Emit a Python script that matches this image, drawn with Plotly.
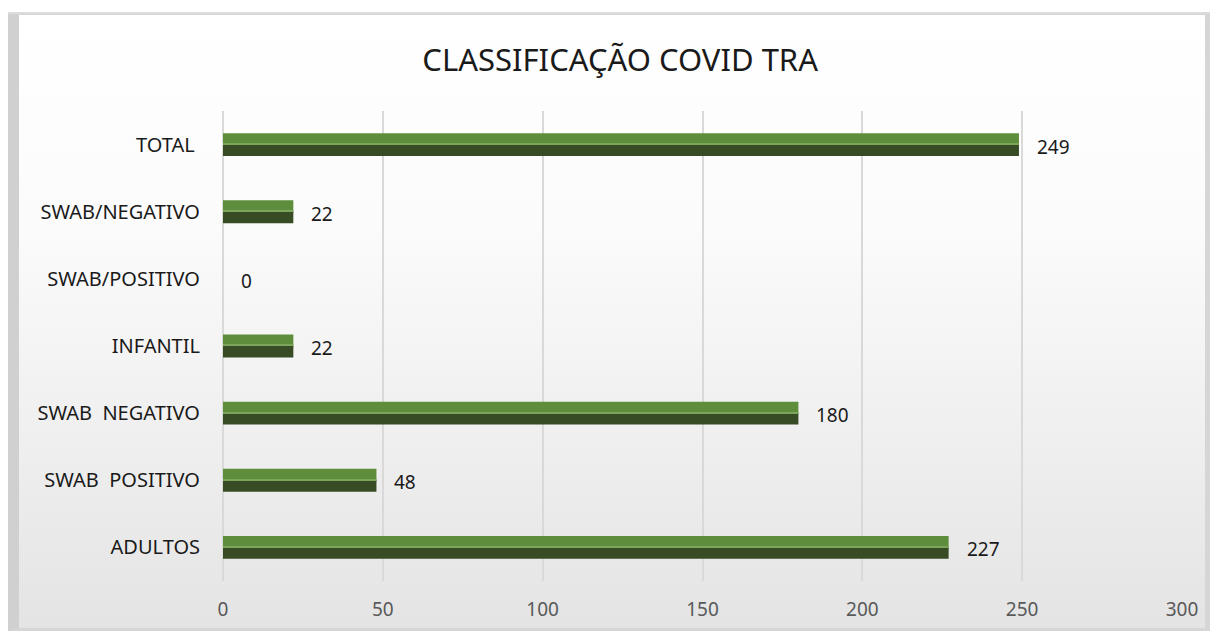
import base64

import plotly.graph_objects as go

# categories bottom -> top (plotly draws the first category at the bottom)
categories = [
    "ADULTOS",
    "SWAB\u00a0 POSITIVO",
    "SWAB\u00a0 NEGATIVO",
    "INFANTIL",
    "SWAB/POSITIVO",
    "SWAB/NEGATIVO",
    "TOTAL\u00a0",
]
values = [227, 48, 180, 22, 0, 22, 249]
x_ticks = [0, 50, 100, 150, 200, 250, 300]

W, H = 1216, 633
L, R, T, B = 223, 34, 111, 52
PW, PH = W - L - R, H - T - B

FONT = "Noto Sans, Open Sans, sans-serif"

# background: soft white-to-grey gradient with a bevelled frame
bg_svg = f"""<svg xmlns='http://www.w3.org/2000/svg' width='{W}' height='{H}' viewBox='0 0 {W} {H}'>
<defs><linearGradient id='g' x1='0' y1='0' x2='0' y2='1'>
<stop offset='0' stop-color='#ffffff'/><stop offset='0.35' stop-color='#fbfbfb'/>
<stop offset='1' stop-color='#e4e4e4'/></linearGradient></defs>
<rect x='0' y='0' width='{W}' height='{H}' fill='#ffffff'/>
<rect x='8' y='12' width='{W - 14}' height='{H - 14}' fill='#d6d6d6'/>
<rect x='19' y='15' width='{W - 30}' height='{H - 20}' fill='url(#g)'/>
<polygon points='8,12 19,15 19,{H - 5} 8,{H - 2}' fill='#d0d0d0'/>
<line x1='8' y1='13' x2='{W - 6}' y2='13' stroke='#dcdcdc' stroke-width='2'/>
</svg>"""
bg_uri = "data:image/svg+xml;base64," + base64.b64encode(bg_svg.encode()).decode()

fig = go.Figure()
# lighter upper half of each bar
fig.add_trace(
    go.Bar(
        x=values,
        y=categories,
        orientation="h",
        width=0.19,
        offset=-0.02,
        marker=dict(color="#5e8e3b", line=dict(width=0)),
        hoverinfo="skip",
    )
)
# darker lower half
fig.add_trace(
    go.Bar(
        x=values,
        y=categories,
        orientation="h",
        width=0.17,
        offset=-0.17,
        marker=dict(color="#374c25", line=dict(width=0)),
        hoverinfo="skip",
    )
)
# thin highlight where the two halves meet
fig.add_trace(
    go.Bar(
        x=values,
        y=categories,
        orientation="h",
        width=0.015,
        offset=0.0,
        marker=dict(color="#7aa55a", line=dict(width=0)),
        hoverinfo="skip",
    )
)

for c, v in zip(categories, values):
    fig.add_annotation(
        x=v,
        y=c,
        text=str(v),
        showarrow=False,
        xanchor="left",
        xshift=16,
        yshift=-2,
        font=dict(family=FONT, size=19, color="#1a1a1a"),
    )

fig.add_layout_image(
    source=bg_uri,
    xref="paper",
    yref="paper",
    x=-L / PW,
    y=1 + T / PH,
    sizex=W / PW,
    sizey=H / PH,
    xanchor="left",
    yanchor="top",
    sizing="stretch",
    layer="below",
)

fig.update_layout(
    width=W,
    height=H,
    margin=dict(l=L, r=R, t=T, b=B),
    barmode="overlay",
    showlegend=False,
    paper_bgcolor="white",
    plot_bgcolor="rgba(0,0,0,0)",
    font=dict(family=FONT, size=19, color="#1a1a1a"),
    title=dict(
        text="CLASSIFICAÇÃO COVID TRA",
        x=0.51,
        xref="container",
        xanchor="center",
        y=1 - 60 / H,
        yanchor="middle",
        font=dict(family=FONT, size=31, color="#1a1a1a"),
    ),
)
fig.update_xaxes(
    range=[0, 300],
    tickvals=x_ticks,
    showgrid=True,
    gridcolor="#d9d9d9",
    gridwidth=1.5,
    zeroline=True,
    zerolinecolor="#d9d9d9",
    zerolinewidth=1.5,
    showline=False,
    tickfont=dict(family=FONT, size=19, color="#595959"),
    ticklabelstandoff=15,
    fixedrange=True,
)
fig.update_yaxes(
    categoryorder="array",
    categoryarray=categories,
    showgrid=False,
    showline=False,
    tickfont=dict(family=FONT, size=20, color="#1a1a1a"),
    ticklabelstandoff=22,
    fixedrange=True,
)

fig.write_html(
    "out.html",
    config={"displayModeBar": False},
    post_script="document.body.style.margin='0';",
)
